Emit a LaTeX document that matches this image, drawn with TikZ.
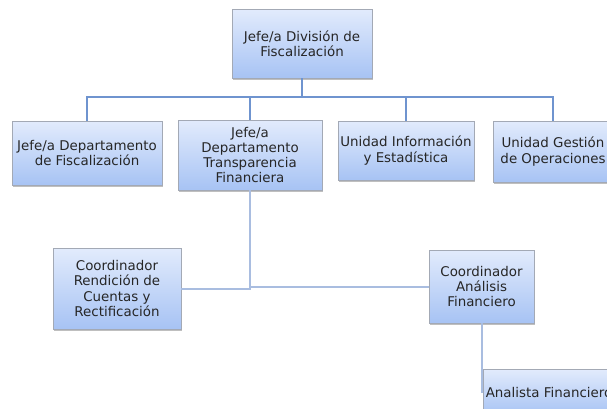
\documentclass[tikz,border=0pt]{standalone}
\usepackage{fontspec}
\setmainfont{DejaVu Sans}
\usetikzlibrary{shadows}
\definecolor{boxtop}{HTML}{E2EBFC}
\definecolor{boxbot}{HTML}{A7C3F4}
\definecolor{boxline}{HTML}{A3A9B5}
\definecolor{linkA}{HTML}{6F94CF}
\definecolor{linkB}{HTML}{A9BDE0}
\begin{document}
\begin{tikzpicture}[x=1pt,y=-1pt,
  orgbox/.style={draw=boxline, line width=0.6pt, top color=boxtop, bottom color=boxbot,
    align=center, font=\fontsize{13.4}{15.2}\selectfont, inner sep=0pt, text=black!85,
    drop shadow={shadow xshift=1.2pt, shadow yshift=-1.6pt, fill=black, opacity=0.25}},
  linkhi/.style={draw=linkA, line width=2.2pt},
  linklo/.style={draw=linkB, line width=2pt}]
\useasboundingbox (0,0) rectangle (607,408);
\clip (0,0) rectangle (607,408);
\node[orgbox, minimum width=140pt, minimum height=69pt] (top) at (302,43.5) {Jefe/a División de\\Fiscalización};
\node[orgbox, minimum width=150pt, minimum height=64pt] (b1) at (87,153) {Jefe/a Departamento\\de Fiscalización};
\node[orgbox, minimum width=144pt, minimum height=70pt] (b2) at (250,155) {Jefe/a\\Departamento\\Transparencia\\Financiera};
\node[orgbox, minimum width=136pt, minimum height=59pt] (b3) at (406,150.5) {Unidad Información\\y Estadística};
\node[orgbox, minimum width=120pt, minimum height=61pt] (b4) at (553,151.5) {Unidad Gestión\\de Operaciones};
\node[orgbox, minimum width=128pt, minimum height=81pt] (cr) at (117,288.5) {Coordinador\\Rendición de\\Cuentas y\\Rectificación};
\node[orgbox, minimum width=105pt, minimum height=73pt] (ca) at (481.5,286.5) {Coordinador\\Análisis\\Financiero};
\node[orgbox, minimum width=132pt, minimum height=46pt] (an) at (549,392) {Analista Financiero};
\coordinate (bus) at (302,97);
\draw[linkhi] (top.south) -- (bus);
\draw[linkhi] (bus) -| (b1.north);
\draw[linkhi] (bus) -| (b2.north);
\draw[linkhi] (bus) -| (b3.north);
\draw[linkhi] (bus) -| (b4.north);
\draw[linklo] (cr.east) -| (b2.south);
\draw[linklo] (ca.west) -| (b2.south);
\draw[linklo] (ca.south) |- (an.west);
\end{tikzpicture}
\end{document}
